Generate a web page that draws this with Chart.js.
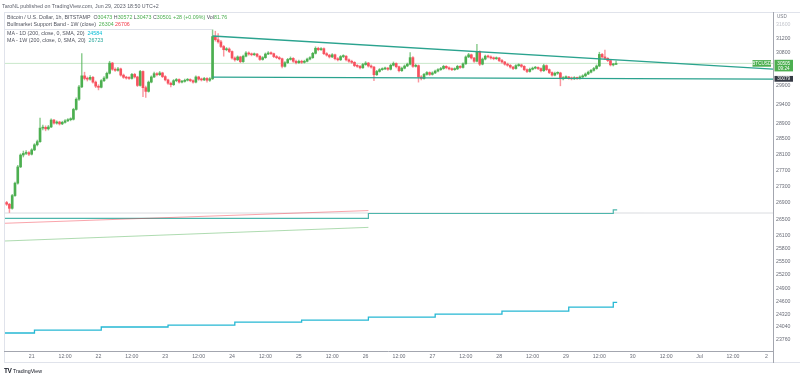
<!DOCTYPE html>
<html><head><meta charset="utf-8">
<script src="https://cdn.jsdelivr.net/npm/chart.js@4.4.0/dist/chart.umd.min.js"></script>
<style>
html,body{margin:0;padding:0;background:#fff;width:800px;height:378px;overflow:hidden;}
#wrap{position:relative;width:800px;height:378px;}
canvas{position:absolute;left:0;top:0;}
.t{position:absolute;font-family:"Liberation Sans",Arial,sans-serif;font-size:5.3px;line-height:6px;white-space:nowrap;color:#50535e;}
</style></head><body>
<div id="wrap">
<canvas id="c" width="800" height="378"></canvas>
<div class="t" style="left:2px;top:3px;color:#5d606b">TaroNL published on TradingView.com, Jun 29, 2023 18:50 UTC+2</div>
<div class="t" id="l1" style="left:7px;top:14.3px"></div>
<div class="t" id="l2" style="left:7px;top:21.3px"></div>
<div class="t" id="l3" style="left:7px;top:30.3px"></div>
<div class="t" id="l4" style="left:7px;top:37.3px"></div>
<div class="t" style="left:4px;top:367.5px;color:#131722"><b style="font-size:6.5px;letter-spacing:-0.4px">TV</b> TradingView</div>
</div>
<script>
// ---------- DATA ----------
const startHour = -9; // first candle: Jun 20 15:00 (hours relative to Jun 21 00:00)
const opens = [
26900,26860,26760,27070,27375,27780,28080,28120,28140,
28100,28210,28340,28420,28770,28790,28750,28800,28980,28900,28930,28880,28920,28960,28990,29000,29260,29530,29860,30160,30090,30070,30120,29990,
29880,29850,30030,30100,30230,30510,30340,30310,30350,30180,30120,30100,30090,30200,30130,29900,30280,29840,29740,29990,30130,30220,30190,30240,
30140,30050,29960,29920,30030,30060,29990,30010,30040,30060,30030,29990,30130,30070,30050,30090,30040,30080,31250,31160,31100,30970,30880,30900,
30830,30650,30600,30680,30550,30700,30790,30760,30740,30760,30700,30610,30660,30760,30790,30770,30690,30660,30630,30420,30520,30610,30640,30560,
30520,30560,30530,30560,30620,30660,30780,30920,30880,30910,30770,30730,30680,30740,30630,30600,30690,30700,30600,30560,30530,30440,30420,30380,
30470,30510,30430,30400,30190,30280,30330,30350,30370,30340,30450,30500,30410,30300,30370,30430,30480,30660,30420,30440,30130,30090,30200,30250,
30200,30240,30290,30330,30360,30420,30380,30350,30330,30350,30420,30390,30490,30680,30740,30650,30560,30830,30480,30620,30700,30680,30650,30630,
30650,30580,30540,30480,30450,30400,30360,30440,30460,30420,30330,30280,30340,30370,30390,30360,30300,30440,30330,30250,30180,30230,30240,30080,
30110,30130,30100,30080,30110,30090,30130,30160,30210,30260,30310,30360,30430,30750,30680,30640,30580,30460,30473];
const highs = [
26930,26880,27100,27400,27820,28110,28180,28190,28170,
28240,28370,28460,29030,28850,28830,28840,29010,29000,28960,28950,28950,28990,29020,29040,29290,29570,29900,30770,30260,30130,30170,30150,30020,
29920,30060,30140,30260,30560,30530,30380,30390,30370,30210,30150,30140,30230,30230,30150,30310,30300,29880,30020,30160,30260,30250,30280,30260,
30170,30070,29990,30060,30090,30080,30040,30070,30090,30080,30050,30160,30150,30100,30120,30110,30110,31440,31400,31330,31140,31000,30940,30930,
30850,30680,30710,30700,30730,30830,30820,30790,30790,30780,30720,30690,30790,30830,30820,30790,30720,30690,30650,30550,30640,30680,30660,30590,
30590,30590,30590,30650,30690,30810,30960,30950,30940,30930,30800,30750,30770,30760,30660,30720,30740,30720,30630,30590,30550,30470,30450,30500,
30550,30530,30460,30420,30310,30360,30380,30400,30390,30480,30540,30520,30430,30400,30460,30510,30800,30690,30480,30460,30170,30230,30280,30270,
30270,30320,30360,30390,30450,30440,30410,30380,30380,30450,30440,30520,30710,30780,30760,30670,31030,30850,30650,30730,30730,30710,30680,30680,
30670,30610,30560,30510,30470,30420,30470,30490,30480,30440,30350,30370,30400,30420,30410,30380,30480,30460,30350,30270,30260,30270,30260,30140,
30160,30150,30130,30140,30130,30160,30190,30240,30290,30340,30390,30460,30810,30780,30870,30660,30600,30500,30572];
const lows = [
26830,26660,26740,27050,27350,27760,28030,28090,28060,
28080,28190,28310,28400,28720,28700,28720,28780,28870,28870,28850,28860,28900,28940,28960,28980,29240,29500,29840,30050,30020,30040,29960,29840,
29780,29830,30000,30080,30210,30310,30280,30290,30150,30090,30070,30060,30070,30100,29870,29880,29600,29580,29720,29970,30110,30160,30170,30110,
30020,29930,29860,29900,30000,29960,29970,29990,30020,30000,29960,29970,30040,30020,30030,29990,30010,30060,31120,31060,30940,30700,30850,30800,
30620,30560,30580,30520,30530,30680,30730,30710,30720,30670,30580,30590,30640,30740,30740,30660,30630,30600,30380,30400,30500,30590,30530,30490,
30500,30500,30510,30540,30600,30640,30760,30850,30860,30740,30700,30650,30660,30600,30570,30580,30660,30570,30530,30500,30410,30390,30350,30360,
30450,30400,30370,30030,30170,30260,30310,30330,30310,30320,30430,30380,30270,30280,30350,30410,30460,30390,30400,29990,30050,30070,30180,30170,
30180,30220,30270,30310,30340,30350,30320,30300,30310,30330,30360,30370,30470,30660,30620,30530,30540,30440,30460,30600,30650,30620,30600,30610,
30550,30510,30450,30420,30370,30330,30340,30420,30390,30300,30250,30260,30320,30350,30330,30270,30280,30300,30220,30150,30160,30200,29890,30050,
30090,30070,30050,30060,30060,30070,30110,30140,30190,30240,30290,30340,30410,30650,30610,30550,30430,30430,30473];
const closes = [
26860,26760,27070,27375,27780,28080,28120,28140,28100,
28210,28340,28420,28770,28790,28750,28800,28980,28900,28930,28880,28920,28960,28990,29000,29260,29530,29860,30160,30090,30070,30120,29990,29880,
29850,30030,30100,30230,30510,30340,30310,30350,30180,30120,30100,30090,30200,30130,29900,30280,29840,29740,29990,30130,30220,30190,30240,30140,
30050,29960,29920,30030,30060,29990,30010,30040,30060,30030,29990,30130,30070,30050,30090,30040,30080,31250,31160,31100,30970,30880,30900,30830,
30650,30600,30680,30550,30700,30790,30760,30740,30760,30700,30610,30660,30760,30790,30770,30690,30660,30630,30420,30520,30610,30640,30560,30520,
30560,30530,30560,30620,30660,30780,30920,30880,30910,30770,30730,30680,30740,30630,30600,30690,30700,30600,30560,30530,30440,30420,30380,30470,
30510,30430,30400,30190,30280,30330,30350,30370,30340,30450,30500,30410,30300,30370,30430,30480,30660,30420,30440,30130,30090,30200,30250,30200,
30240,30290,30330,30360,30420,30380,30350,30330,30350,30420,30390,30490,30680,30740,30650,30560,30830,30480,30620,30700,30680,30650,30630,30650,
30580,30540,30480,30450,30400,30360,30440,30460,30420,30330,30280,30340,30370,30390,30360,30300,30440,30330,30250,30180,30230,30240,30080,30110,
30130,30100,30080,30110,30090,30130,30160,30210,30260,30310,30360,30430,30750,30680,30640,30580,30460,30473,30501];
const lastVolume = "81.76";

// indicator series (x = hours from Jun 21 00:00)
const ma1dHours  = [-10, 1, 25, 49, 73, 97, 121, 145, 169, 193, 209, 210.4];
const ma1dValues = [23911, 23975, 24041, 24084, 24149, 24193, 24258, 24324, 24390, 24478, 24584, 24584];
const ma1wHours  = [-10, 121, 209, 210.4];
const ma1wValues = [26519, 26635, 26723, 26723];
const bandHours      = [-47, 121];
const bandSmaValues  = [25891, 26304];
const bandEmaValues  = [26315, 26706];
const upperTrendHours = [65, 266.4];
const upperTrendPrices = [31265, 30345];
const lowerTrendHours = [65, 266.4];
const lowerTrendPrices = [30125, 30070];
const greyLevel = 26647;
const lastPriceTag = "30505", countdown = "09:24", lowerTrendTag = "30079", lowerTrendTagPrice = 30079;

// axes
const xTickHours = [0,12,24,36,48,60,72,84,96,108,120,132,144,156,168,180,192,204,216,228,240,252,264];
const xTickLabels = ["21","12:00","22","12:00","23","12:00","24","12:00","25","12:00","26","12:00","27","12:00","28","12:00","29","12:00","30","12:00","Jul","12:00","2"];
const yTicks = [31600,31200,30800,29900,29400,28900,28500,28100,27700,27300,26900,26500,26100,25800,25500,25200,24900,24600,24320,24040,23760];
const xMin = -9.95, xMax = 266.4, yMin = 23526, yMax = 31921;

// ---------- BUILD ----------
const GREEN = '#4caf50', RED = '#f7525f';
const n = closes.length;
const bodies = [], wicks = [], bodyCols = [], wickCols = [];
for (let i = 0; i < n; i++) {
  const x = startHour + i;
  bodies.push({x: x, y: [opens[i], closes[i]]});
  wicks.push({x: x, y: [lows[i], highs[i]]});
  const up = closes[i] >= opens[i];
  bodyCols.push(up ? GREEN : RED);
  wickCols.push(up ? 'rgba(76,175,80,0.65)' : 'rgba(247,82,95,0.6)');
}
const pts = (xs, ys) => xs.map((x, i) => ({x: x, y: ys[i]}));
const lastC = closes[n-1], lastO = opens[n-1];
const chg = lastC - lastO;

const g = v => '<span style="color:#4caf50">' + v + '</span>';
document.getElementById('l1').innerHTML = 'Bitcoin / U.S. Dollar, 1h, BITSTAMP&nbsp; O' + g(lastO) + ' H' + g(highs[n-1]) + ' L' + g(lows[n-1]) + ' C' + g(lastC) + ' ' + g((chg>=0?'+':'') + chg + ' (' + (chg>=0?'+':'') + (chg/lastO*100).toFixed(2) + '%)') + ' Vol' + g(lastVolume);
document.getElementById('l2').innerHTML = 'Bullmarket Support Band - 1W (close)&nbsp; <span style="color:#4caf50">' + bandSmaValues[bandSmaValues.length-1] + '</span> <span style="color:#f23645">' + bandEmaValues[bandEmaValues.length-1] + '</span>';
document.getElementById('l3').innerHTML = 'MA - 1D (200, close, 0, SMA, 20)&nbsp; <span style="color:#00bcd4">' + ma1dValues[ma1dValues.length-1] + '</span>';
document.getElementById('l4').innerHTML = 'MA - 1W (200, close, 0, SMA, 20)&nbsp; <span style="color:#26a69a">' + ma1wValues[ma1wValues.length-1] + '</span>';

const overlay = {
  id: 'overlay',
  afterDraw(chart) {
    const {ctx, chartArea: a, scales: {y}} = chart;
    ctx.save();
    ctx.lineWidth = 1;
    ctx.strokeStyle = '#e0e3eb';
    ctx.beginPath();
    ctx.moveTo(4, 12.5); ctx.lineTo(800, 12.5);
    ctx.moveTo(4.5, 12); ctx.lineTo(4.5, 363);
    ctx.moveTo(4, 362.5); ctx.lineTo(800, 362.5);
    ctx.moveTo(4, 29.5); ctx.lineTo(212, 29.5);
    ctx.stroke();
    ctx.strokeStyle = '#a3a6af';
    ctx.beginPath();
    ctx.moveTo(a.right + 0.5, 12); ctx.lineTo(a.right + 0.5, 363);
    ctx.moveTo(4, a.bottom + 0.5); ctx.lineTo(a.right, a.bottom + 0.5);
    ctx.stroke();
    ctx.font = '4.6px "Liberation Sans", Arial';
    ctx.textBaseline = 'middle';
    ctx.fillStyle = '#787b86'; ctx.textAlign = 'left';
    ctx.fillText('USD', a.right + 4, 16.7);
    const py = y.getPixelForValue(lastC);
    ctx.fillStyle = GREEN;
    ctx.fillRect(a.right - 20.5, py - 3.3, 18.5, 6.6);
    ctx.fillRect(a.right + 1.5, py - 3.6, 18.5, 11.6);
    ctx.fillStyle = '#fff'; ctx.textAlign = 'center';
    ctx.fillText('BTCUSD', a.right - 11.25, py + 0.2);
    ctx.fillText(lastPriceTag, a.right + 10.75, py + 0.2);
    ctx.fillText(countdown, a.right + 10.75, py + 5.0);
    const pd = y.getPixelForValue(lowerTrendTagPrice);
    ctx.fillStyle = '#363a45';
    ctx.fillRect(a.right + 1.5, pd - 2.9, 18.5, 5.8);
    ctx.fillStyle = '#fff';
    ctx.fillText(lowerTrendTag, a.right + 10.75, pd + 0.2);
    ctx.restore();
  }
};

const lineDs = (data, color, width, order, extra) => Object.assign({
  type: 'line', data: data, borderColor: color, borderWidth: width, pointRadius: 0,
  fill: false, tension: 0, order: order
}, extra || {});

new Chart(document.getElementById('c'), {
  type: 'bar',
  data: { datasets: [
    lineDs(pts(upperTrendHours, upperTrendPrices), '#2ba38f', 1.3, 0),
    lineDs(pts(lowerTrendHours, lowerTrendPrices), '#2ba38f', 1.3, 0),
    lineDs([{x: xMin, y: lastC}, {x: xMax, y: lastC}], 'rgba(76,175,80,0.3)', 1, 5),
    lineDs([{x: xMin, y: greyLevel}, {x: xMax, y: greyLevel}], 'rgba(150,155,165,0.35)', 1, 6),
    { type: 'bar', data: bodies, backgroundColor: bodyCols, barThickness: 2, grouped: false, minBarLength: 1, borderWidth: 0, order: 2 },
    { type: 'bar', data: wicks, backgroundColor: wickCols, barThickness: 0.8, grouped: false, borderWidth: 0, order: 3 },
    lineDs(pts(bandHours, bandEmaValues), 'rgba(242,54,69,0.45)', 1, 4),
    lineDs(pts(bandHours, bandSmaValues), 'rgba(76,175,80,0.45)', 1, 4),
    lineDs(pts(ma1wHours, ma1wValues), '#4db6ac', 1.2, 4, {stepped: true}),
    lineDs(pts(ma1dHours, ma1dValues), '#26b8d4', 1.3, 4, {stepped: true})
  ]},
  options: {
    responsive: false, animation: false, events: [],
    layout: { padding: { left: 4, top: 13, right: 0, bottom: 15 } },
    plugins: { legend: { display: false }, tooltip: { enabled: false } },
    scales: {
      x: {
        type: 'linear', min: xMin, max: xMax, bounds: 'data', offset: false,
        grid: { display: false, drawTicks: false }, border: { display: false },
        afterBuildTicks: s => { s.ticks = xTickHours.map(v => ({value: v})); },
        afterFit: s => { s.height = 12; },
        ticks: { autoSkip: false, maxRotation: 0, padding: 2.5, color: '#6a6d78',
          font: { size: 5.2, family: '"Liberation Sans", Arial' },
          callback: (v, i) => xTickLabels[i] }
      },
      y: {
        type: 'logarithmic', position: 'right', min: yMin, max: yMax, bounds: 'data',
        grid: { display: false, drawTicks: false }, border: { display: false },
        afterBuildTicks: s => { s.ticks = yTicks.map(v => ({value: v})); },
        afterFit: s => { s.width = 27; },
        ticks: { autoSkip: false, padding: 3,
          color: c => (c.tick && c.tick.value === yTicks[0]) ? '#c3c5cc' : '#6a6d78',
          font: { size: 5.2, family: '"Liberation Sans", Arial' },
          callback: v => String(v) }
      }
    }
  },
  plugins: [overlay]
});
</script>
</body></html>
